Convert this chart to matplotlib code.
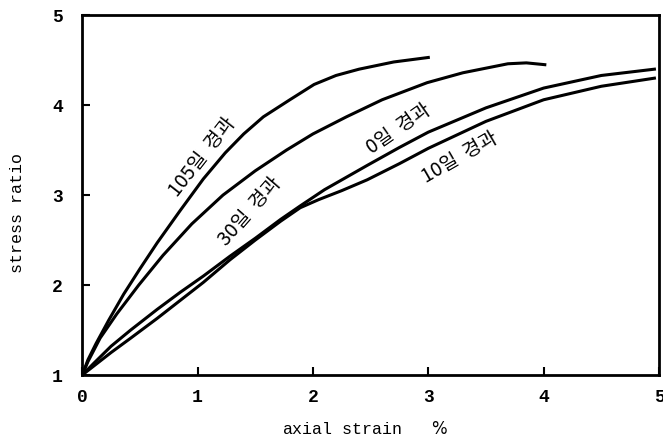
import matplotlib.pyplot as plt

# ---- données ----
x_105 = [0, 0.05, 0.12, 0.23, 0.36, 0.5, 0.65, 0.85, 1.05, 1.24, 1.4, 1.57, 1.8, 2.01, 2.2, 2.4, 2.7, 3.0]
y_105 = [1, 1.17, 1.35, 1.61, 1.9, 2.18, 2.47, 2.83, 3.18, 3.47, 3.68, 3.87, 4.06, 4.23, 4.33, 4.40, 4.48, 4.53]

x_30 = [0, 0.05, 0.155, 0.3, 0.49, 0.7, 0.95, 1.22, 1.5, 1.77, 2.0, 2.29, 2.6, 2.99, 3.3, 3.69, 3.85, 4.01]
y_30 = [1, 1.15, 1.41, 1.68, 2.0, 2.33, 2.68, 3.0, 3.27, 3.5, 3.68, 3.87, 4.06, 4.25, 4.36, 4.46, 4.47, 4.45]

x_0 = [0, 0.1, 0.25, 0.42, 0.65, 0.85, 1.05, 1.28, 1.5, 1.72, 1.89, 2.1, 2.47, 2.75, 3.0, 3.5, 4.0, 4.5, 4.96]
y_0 = [1, 1.13, 1.32, 1.5, 1.73, 1.92, 2.1, 2.32, 2.52, 2.73, 2.88, 3.06, 3.33, 3.53, 3.70, 3.97, 4.19, 4.33, 4.40]

x_10 = [0, 0.1, 0.25, 0.42, 0.65, 0.85, 1.05, 1.28, 1.5, 1.72, 1.89, 2.05, 2.25, 2.47, 2.75, 3.0, 3.5, 4.0, 4.5, 4.96]
y_10 = [1, 1.1, 1.25, 1.41, 1.63, 1.83, 2.03, 2.28, 2.50, 2.71, 2.86, 2.95, 3.05, 3.17, 3.35, 3.52, 3.82, 4.06, 4.21, 4.30]

etiquettes = ["105일  경과", "30일  경과", "0일  경과", "10일  경과"]
pos_etiq = [(1.04, 3.42, 52), (1.45, 2.82, 49), (2.74, 3.74, 35), (3.27, 3.42, 30)]

xticks = [0, 1, 2, 3, 4, 5]
yticks = [1, 2, 3, 4, 5]

# ---- figure ----
mono = ['Liberation Mono', 'DejaVu Sans Mono']
kor = ['Noto Sans CJK KR', 'DejaVu Sans']

fig = plt.figure(figsize=(6.63, 4.47), dpi=100)
ax = fig.add_axes([0.124, 0.161, 0.870, 0.805])

for xs, ys in [(x_105, y_105), (x_30, y_30), (x_0, y_0), (x_10, y_10)]:
    ax.plot(xs, ys, color='black', lw=2.2, solid_joinstyle='round')

for txt, (tx, ty, rot) in zip(etiquettes, pos_etiq):
    ax.text(tx, ty, txt, rotation=rot, ha='center', va='center',
            fontsize=14, family=kor, rotation_mode='anchor')

ax.set_xlim(0, 5)
ax.set_ylim(1, 5)
ax.set_xticks(xticks)
ax.set_yticks(yticks)
ax.set_xticklabels([str(t) for t in xticks], family=mono, fontweight='bold', fontsize=13)
ax.set_yticklabels([str(t) for t in yticks], family=mono, fontweight='bold', fontsize=13)
ax.tick_params(direction='in', length=6, width=1.5)
ax.tick_params(axis='x', pad=10)
ax.tick_params(axis='y', pad=14)

for s in ax.spines.values():
    s.set_linewidth(2)

ax.set_ylabel("stress ratio", family=mono, fontsize=12)
ax.yaxis.set_label_coords(-0.099, 0.45)
ax.set_xlabel("axial strain   $\\it{\\%}$", family=mono, fontsize=12)
ax.xaxis.set_label_coords(0.49, -0.125)

plt.savefig("out.png", dpi=100)
